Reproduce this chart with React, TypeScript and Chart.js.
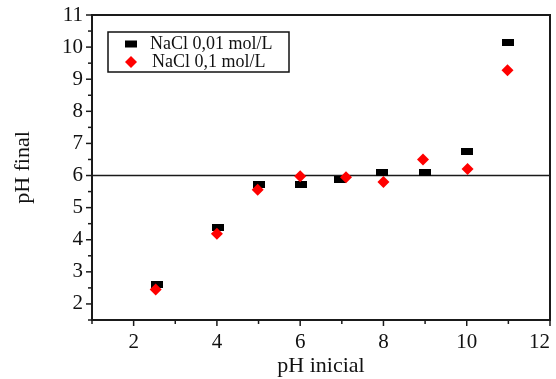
import React, { useEffect, useRef } from 'react';
import { Chart, registerables } from 'chart.js';

Chart.register(...registerables);

// Data
const phInicial001 = [2.55, 4.02, 5.0, 6.02, 6.96, 7.97, 8.99, 10.0, 11.0];
const phFinal001 = [2.62, 4.37, 5.72, 5.72, 5.87, 6.08, 6.08, 6.74, 10.15];
const phInicial01 = [2.53, 4.0, 4.98, 6.0, 7.1, 8.0, 8.95, 10.02, 10.98];
const phFinal01 = [2.45, 4.19, 5.56, 5.98, 5.95, 5.8, 6.5, 6.2, 9.28];
const refLineX = [1, 12];
const refLineY = [6, 6];
const seriesLabels = ['NaCl 0,01 mol/L', 'NaCl 0,1 mol/L'];
const xTitle = 'pH inicial';
const yTitle = 'pH final';
const xRange = [1, 12];
const yRange = [1.5, 11];

const FONT = "'Liberation Serif', 'Times New Roman', serif";

function makeRectStyle(): HTMLCanvasElement {
  const c = document.createElement('canvas');
  c.width = 12;
  c.height = 7;
  const g = c.getContext('2d')!;
  g.fillStyle = '#000000';
  g.fillRect(0, 0, 12, 7);
  return c;
}

const framePlugin = {
  id: 'frameTicksLegend',
  afterDraw(chart: any) {
    const { ctx, chartArea: a, scales } = chart;
    ctx.save();
    ctx.strokeStyle = '#1a1a1a';
    ctx.lineWidth = 2;
    ctx.strokeRect(a.left, a.top, a.right - a.left, a.bottom - a.top);
    ctx.lineWidth = 1.5;
    const xs = scales.x;
    xs.ticks.forEach((t: any) => {
      const px = xs.getPixelForValue(t.value);
      const len = Math.round(t.value) % 2 === 0 ? 6 : 4;
      ctx.beginPath();
      ctx.moveTo(px, a.bottom);
      ctx.lineTo(px, a.bottom + len);
      ctx.stroke();
    });
    const ys = scales.y;
    ys.ticks.forEach((t: any) => {
      const py = ys.getPixelForValue(t.value);
      const len = Number.isInteger(t.value) ? 6 : 4;
      ctx.beginPath();
      ctx.moveTo(a.left, py);
      ctx.lineTo(a.left - len, py);
      ctx.stroke();
    });

    // legend
    const bx = a.left + 16;
    const by = a.top + 17;
    const bw = 181;
    const bh = 40;
    ctx.lineWidth = 1.5;
    ctx.strokeStyle = '#111';
    ctx.strokeRect(bx, by, bw, bh);
    ctx.font = `18px ${FONT}`;
    ctx.fillStyle = '#111';
    ctx.textBaseline = 'middle';
    ctx.textAlign = 'left';
    const rowY = [by + 12, by + 30];
    ctx.fillStyle = '#000';
    ctx.fillRect(bx + 17, rowY[0] - 3.5, 12, 7);
    ctx.fillStyle = '#ff0000';
    const cx = bx + 23;
    const cy = rowY[1];
    ctx.beginPath();
    ctx.moveTo(cx - 6, cy);
    ctx.lineTo(cx, cy - 6);
    ctx.lineTo(cx + 6, cy);
    ctx.lineTo(cx, cy + 6);
    ctx.closePath();
    ctx.fill();
    ctx.fillStyle = '#111';
    ctx.fillText(seriesLabels[0], bx + 42, rowY[0]);
    ctx.fillText(seriesLabels[1], bx + 44, rowY[1]);
    ctx.restore();
  },
};

export default function App() {
  const ref = useRef<HTMLCanvasElement | null>(null);

  useEffect(() => {
    document.body.style.margin = '0';
    const canvas = ref.current!;
    const rectStyle = makeRectStyle();
    const chart = new Chart(canvas, {
      type: 'scatter',
      data: {
        datasets: [
          {
            label: seriesLabels[1],
            data: phInicial01.map((x, i) => ({ x, y: phFinal01[i] })),
            pointStyle: 'rectRot',
            pointRadius: 6,
            backgroundColor: '#ff0000',
            borderWidth: 0,
            order: 1,
          },
          {
            label: seriesLabels[0],
            data: phInicial001.map((x, i) => ({ x, y: phFinal001[i] })),
            pointStyle: rectStyle as any,
            pointRadius: 6,
            backgroundColor: '#000000',
            borderWidth: 0,
            order: 2,
          },
          {
            type: 'line',
            label: 'ref',
            data: refLineX.map((x, i) => ({ x, y: refLineY[i] })),
            borderColor: '#1a1a1a',
            borderWidth: 1.5,
            pointRadius: 0,
            order: 10,
          } as any,
        ],
      },
      options: {
        responsive: false,
        animation: false,
        devicePixelRatio: 1,
        layout: { padding: { top: 15, right: 5, left: 0, bottom: 0 } },
        plugins: { legend: { display: false }, tooltip: { enabled: false } },
        scales: {
          x: {
            type: 'linear',
            min: xRange[0],
            max: xRange[1],
            grid: { display: false, drawTicks: false },
            border: { display: false },
            ticks: {
              stepSize: 1,
              autoSkip: false,
              maxRotation: 0,
              align: 'inner',
              padding: 10,
              color: '#111',
              font: { family: FONT, size: 21 },
              callback: (v: any) => (Number(v) % 2 === 0 ? String(v) : ''),
            },
            title: {
              display: true,
              text: xTitle,
              color: '#111',
              font: { family: FONT, size: 22 },
              padding: { top: 0, bottom: 0 },
            },
            afterFit: (s: any) => {
              s.height = 59;
              s.paddingLeft = 0;
              s.paddingRight = 0;
            },
          },
          y: {
            type: 'linear',
            min: yRange[0],
            max: yRange[1],
            grid: { display: false, drawTicks: false },
            border: { display: false },
            ticks: {
              stepSize: 0.5,
              autoSkip: false,
              padding: 9,
              color: '#111',
              font: { family: FONT, size: 21 },
              callback: (v: any) => (Number.isInteger(Number(v)) ? String(v) : ''),
            },
            title: {
              display: true,
              text: yTitle,
              color: '#111',
              font: { family: FONT, size: 22 },
              padding: { top: 10, bottom: 0 },
            },
            afterFit: (s: any) => {
              s.width = 92;
              s.paddingTop = 0;
              s.paddingBottom = 0;
            },
          },
        },
      },
      plugins: [framePlugin],
    });
    return () => chart.destroy();
  }, []);

  return (
    <div style={{ width: 556, height: 379, background: '#fff' }}>
      <canvas ref={ref} width={556} height={379} style={{ display: 'block' }} />
    </div>
  );
}
